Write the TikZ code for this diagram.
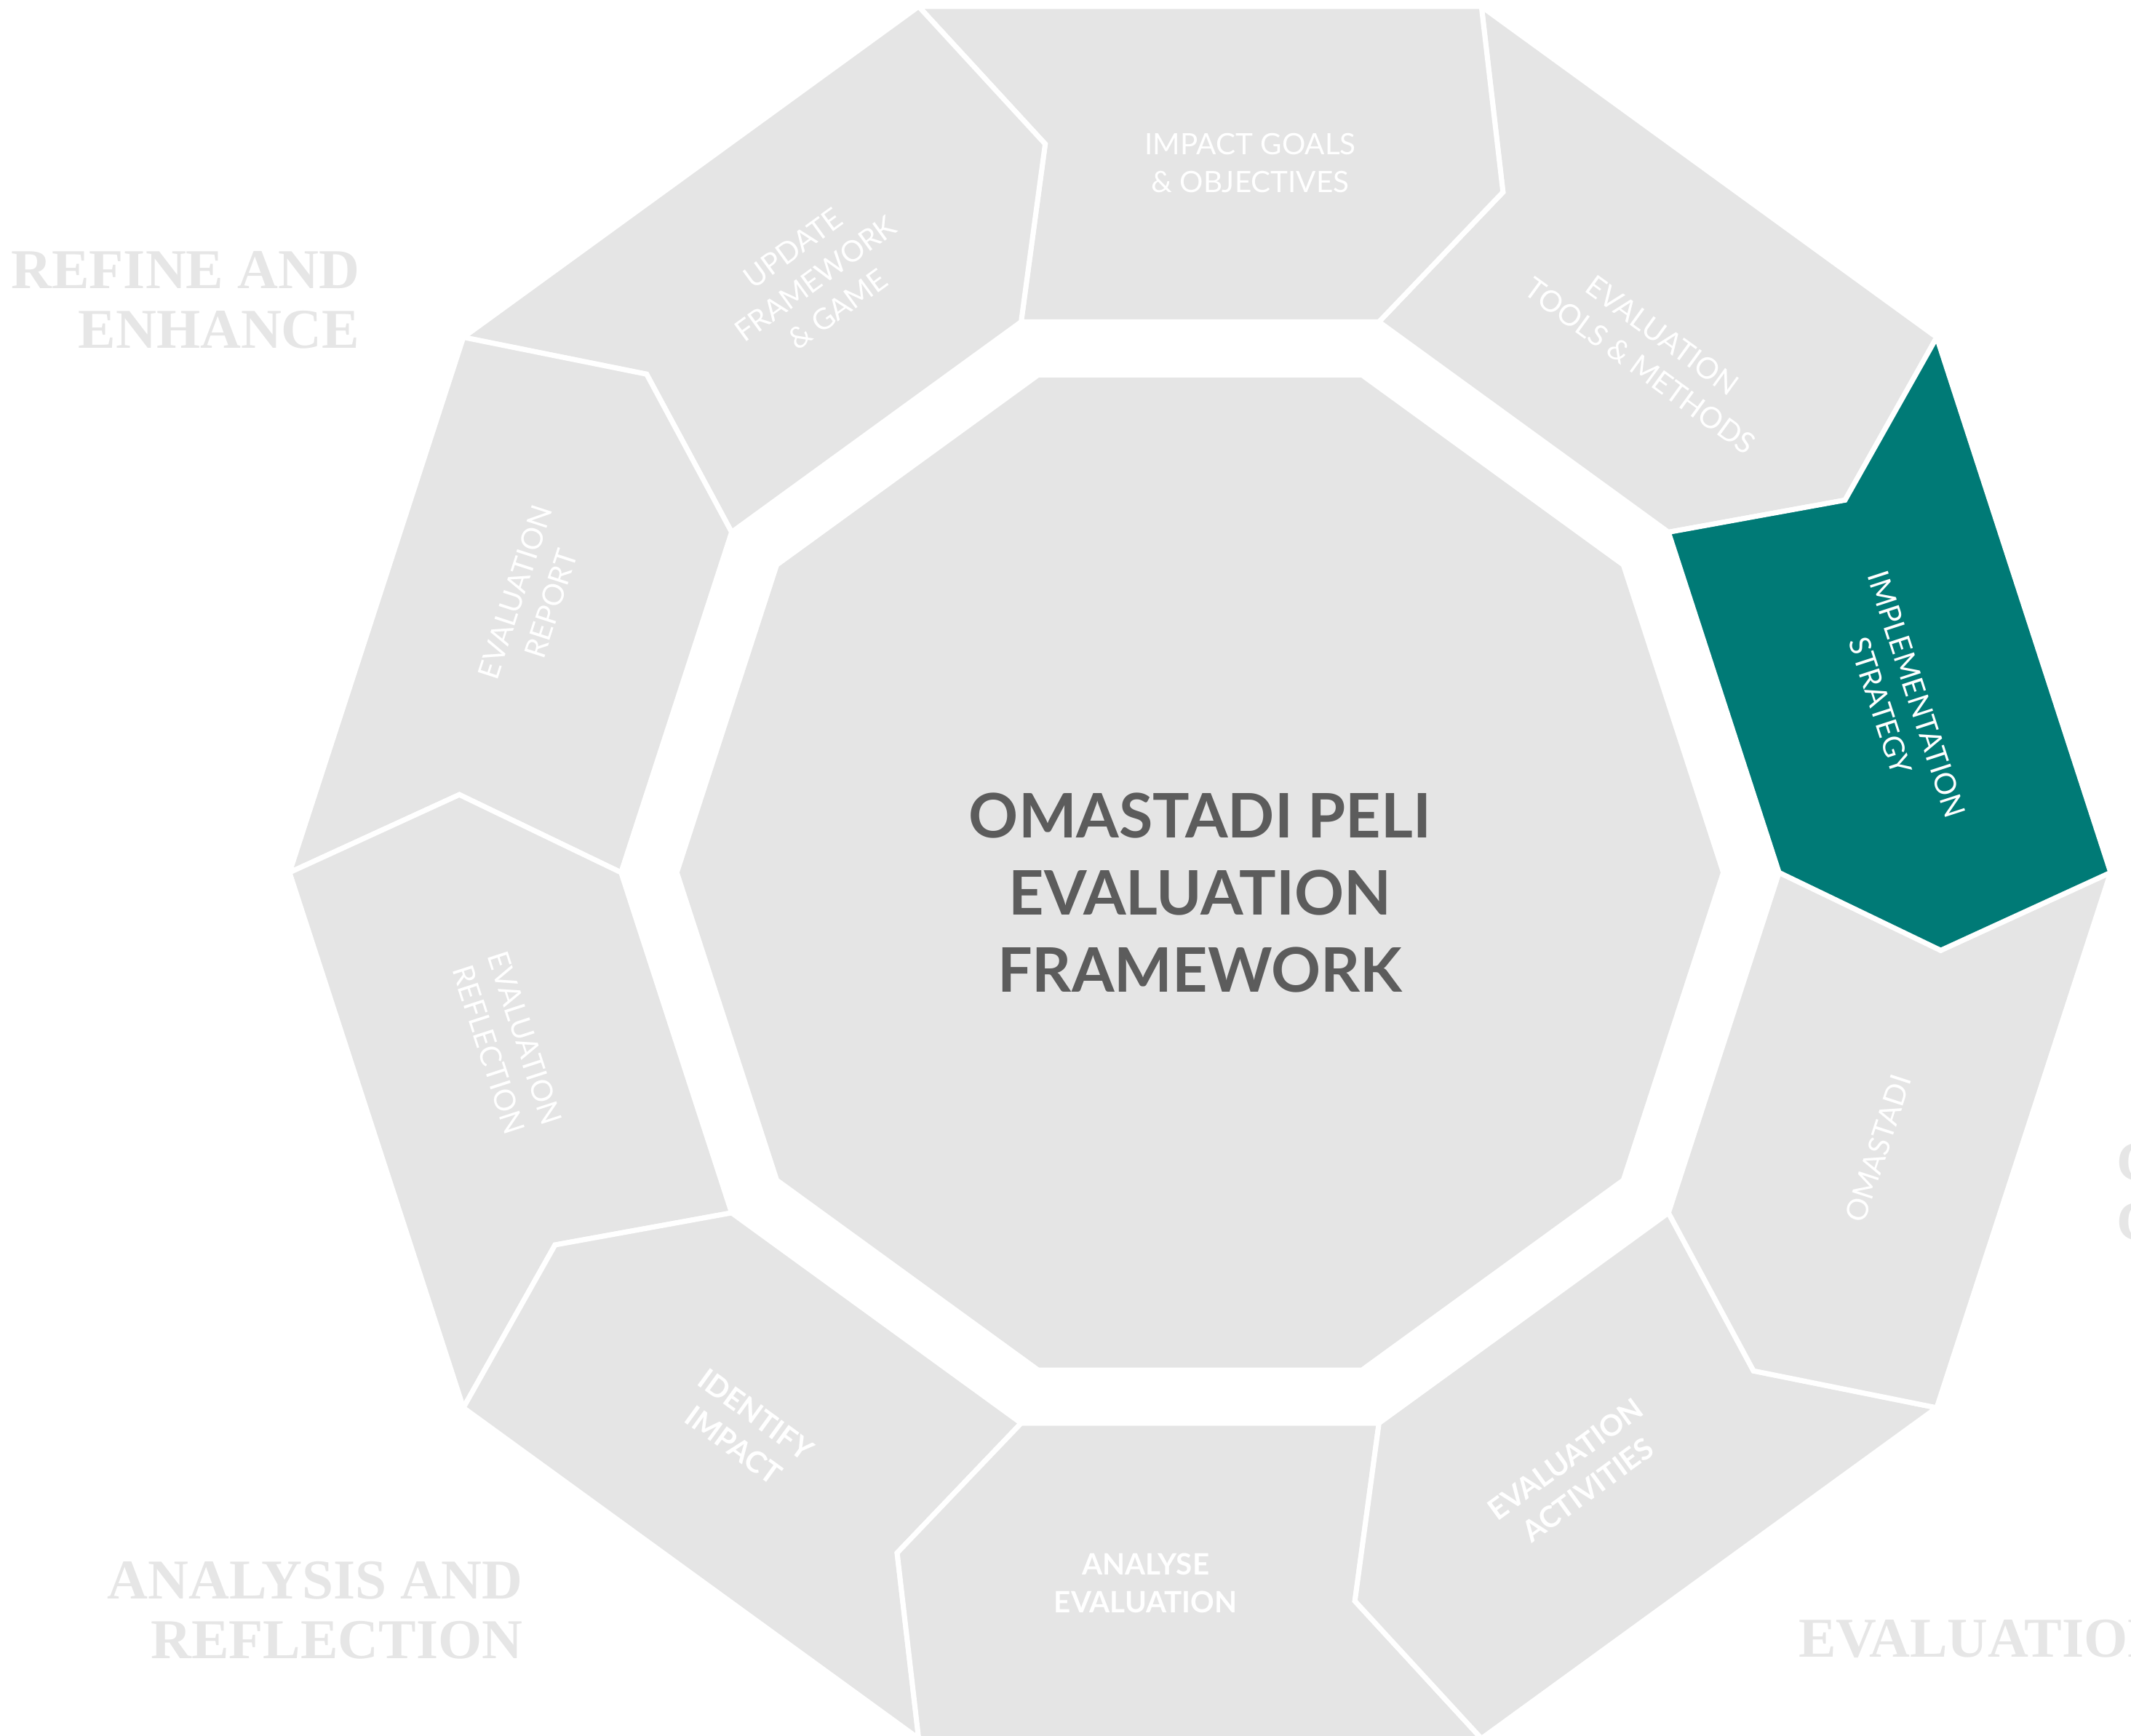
\documentclass[tikz,border=0pt]{standalone}
\usepackage{fontspec}
\setmainfont{Lato}
\newfontfamily\phasefont{Liberation Serif}
\usepackage{tikz}
\usetikzlibrary{positioning}
\usepackage{xcolor}
\definecolor{ringgrey}{HTML}{E5E5E5}
\definecolor{ringteal}{HTML}{007A76}
\definecolor{hubgrey}{HTML}{5C5C5C}
\definecolor{phasegrey}{HTML}{E6E6E6}
\tikzstyle{ringseg} = [fill=ringgrey, draw=white, line width=2pt, line join=miter]
\tikzstyle{steplabel} = [text=white, align=center, inner sep=0pt, font=\fontsize{11.5}{14.8}\selectfont]
\tikzstyle{stepbold} = [steplabel, font=\bfseries\fontsize{11.5}{14.8}\selectfont]
\tikzstyle{hubtext} = [text=hubgrey, align=center, inner sep=0pt, font=\bfseries\fontsize{24}{30.2}\selectfont]
\tikzstyle{phaselabel} = [text=phasegrey, inner sep=0pt, font=\phasefont\bfseries\fontsize{22}{23.3}\selectfont]

\begin{document}
\begin{tikzpicture}[x=0.1868mm, y=0.1868mm]
\useasboundingbox (0,0) rectangle (1568,1277);
\clip (0,0) rectangle (1568,1277);

% outer ring of ten steps
\begin{scope}[shift={(883,635)}]
\foreach \a in {36,72,...,324}
  \filldraw[ringseg] (\a:670) -- ({\a-6}:548) -- (\a:426) -- ({\a+36}:426) -- ({\a+30}:548) -- ({\a+36}:670) -- cycle;
\filldraw[ringseg, fill=ringteal] (0:670) -- (-6:548) -- (0:426) -- (36:426) -- (30:548) -- (36:670) -- cycle;

% hub
\fill[ringgrey] (0:383) \foreach \a in {36,72,...,324}{ -- (\a:383)} -- cycle;
\node[hubtext] (hub) at (0,-15) {OMASTADI PELI\\EVALUATION\\FRAMEWORK};

\node[steplabel] (goals) at (37,522) {IMPACT GOALS\\\& OBJECTIVES};
\node[steplabel, rotate=-36] (tools) at (332,384) {EVALUATION\\TOOLS \& METHODS};
\node[steplabel, rotate=-72] (strategy) at (514,127) {IMPLEMENTATION\\STRATEGY};
\node[steplabel, rotate=72] (omastadi) at (499,-203) {OMASTADI};
\node[stepbold, rotate=36] (activities) at (277,-443) {EVALUATION\\ACTIVITIES};
\node[stepbold] (analyse) at (-40,-523) {ANALYSE\\EVALUATION};
\node[stepbold, rotate=-36] (impact) at (-335,-410) {IDENTIFY\\IMPACT};
\node[steplabel, rotate=-72] (reflection) at (-510,-126) {EVALUATION\\REFLECTION};
\node[steplabel, rotate=72] (report) at (-491,202) {EVALUATION\\REPORT};
\node[steplabel, rotate=36] (update) at (-283,437) {UPDATE\\FRAMEWORK\\\& GAME};
\end{scope}

% phase names
\node[phaselabel, align=right, anchor=east] (refine) at (265,1056) {REFINE AND\\ENHANCE};
\node[phaselabel, align=right, anchor=east] (analysis) at (385,92) {ANALYSIS AND\\REFLECTION};
\node[phaselabel, anchor=west] (evaluation) at (1323,71) {EVALUATION};
\node[phaselabel, align=left, anchor=west] (rightphase) at (1557,400) {C\\C};
\end{tikzpicture}
\end{document}
